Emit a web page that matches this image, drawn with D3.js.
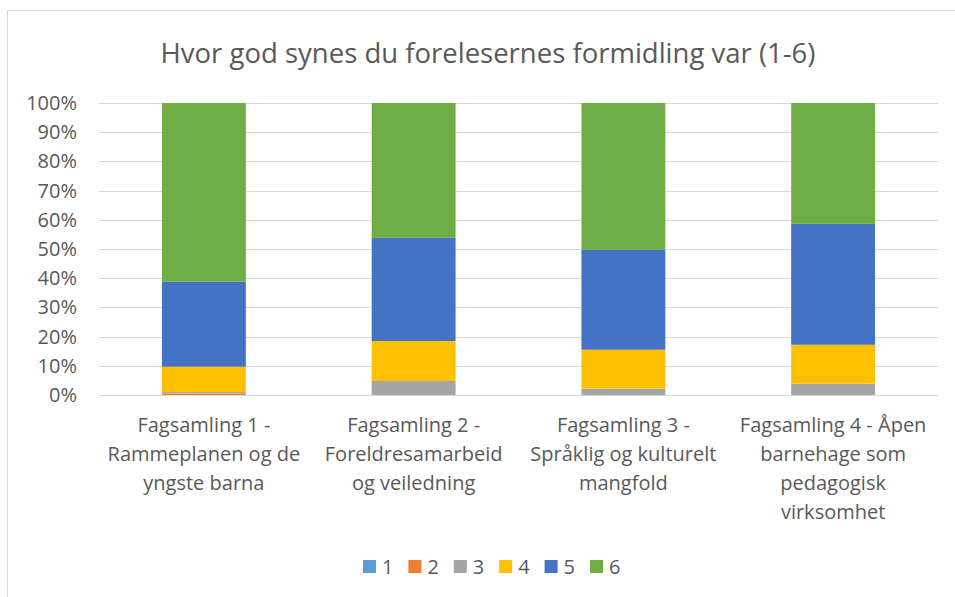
<!DOCTYPE html>
<html>
<head>
<meta charset="utf-8">
<script src="https://cdn.jsdelivr.net/npm/d3@7"></script>
<style>
  html, body { margin: 0; padding: 0; background: #fff; }
  svg { display: block; }
  text { font-family: "Open Sans", "Noto Sans", sans-serif; fill: #595959; }
</style>
</head>
<body>
<svg id="chart" width="955" height="597"></svg>
<script>
// chart data
const categories = [
    ["Fagsamling 1 -", "Rammeplanen og de", "yngste barna"],
    ["Fagsamling 2 -", "Foreldresamarbeid", "og veiledning"],
    ["Fagsamling 3 -", "Språklig og kulturelt", "mangfold"],
    ["Fagsamling 4 - Åpen", "barnehage som", "pedagogisk", "virksomhet"]
];
const seriesNames = ["1", "2", "3", "4", "5", "6"];
const s1 = [0, 0, 0, 0];
const s2 = [0.5, 0, 0, 0];
const s3 = [0.5, 4.8, 2.2, 3.9];
const s4 = [8.7, 13.7, 13.3, 13.3];
const s5 = [29.1, 35.3, 34.2, 41.4];
const s6 = [61.2, 46.2, 50.3, 41.4];
const yTicks = [0, 10, 20, 30, 40, 50, 60, 70, 80, 90, 100];
const colors = ["#5B9BD5", "#ED7D31", "#A5A5A5", "#FFC000", "#4472C4", "#70AD47"];

const allSeries = [s1, s2, s3, s4, s5, s6];
const rows = categories.map((c, i) => {
    let o = { idx: i };
    seriesNames.forEach((n, k) => { o[n] = allSeries[k][i]; });
    return o;
});

const svg = d3.select("#chart");

// outer chart border
svg.append("rect")
    .attr("x", 7.5).attr("y", 10.5)
    .attr("width", 960).attr("height", 600)
    .attr("fill", "none")
    .attr("stroke", "#D9D9D9")
    .attr("stroke-width", 1);

svg.append("text")
    .attr("x", 488).attr("y", 63)
    .attr("text-anchor", "middle")
    .style("font-size", "27.5px")
    .text("Hvor god synes du forelesernes formidling var (1-6)");

const x = d3.scaleBand()
    .domain(rows.map(d => d.idx))
    .range([99, 938])
    .paddingInner(0.6)
    .paddingOuter(0.3);

const y = d3.scaleLinear()
    .domain([0, 100])
    .range([395, 103]);

// gridlines
svg.append("g")
    .selectAll("line")
    .data(yTicks)
    .enter()
    .append("line")
    .attr("x1", 99).attr("x2", 938)
    .attr("y1", d => Math.round(y(d)) + 0.5)
    .attr("y2", d => Math.round(y(d)) + 0.5)
    .attr("stroke", "#D9D9D9")
    .attr("stroke-width", 1);

// y axis labels
const yAxis = svg.append("g")
    .attr("transform", "translate(99,0)")
    .call(d3.axisLeft(y).tickValues(yTicks).tickFormat(d => d + "%").tickSize(0).tickPadding(22));
yAxis.select(".domain").remove();
yAxis.selectAll("text")
    .style("font-size", "20px")
    .style("font-family", "'Open Sans', 'Noto Sans', sans-serif")
    .attr("fill", "#595959");

// stacked bars
const stacked = d3.stack().keys(seriesNames)(rows);

svg.append("g")
    .selectAll("g")
    .data(stacked)
    .enter()
    .append("g")
    .attr("fill", (d, i) => colors[i])
    .selectAll("rect")
    .data(d => d)
    .enter()
    .append("rect")
    .attr("x", d => x(d.data.idx))
    .attr("width", x.bandwidth())
    .attr("y", d => y(d[1]))
    .attr("height", d => y(d[0]) - y(d[1]));

// category labels
const catG = svg.append("g");
categories.forEach((lines, i) => {
    const t = catG.append("text")
        .attr("text-anchor", "middle")
        .style("font-size", "20px");
    lines.forEach((ln, j) => {
        t.append("tspan")
            .attr("x", x(i) + x.bandwidth() / 2)
            .attr("y", 432 + j * 29)
            .text(ln);
    });
});

// legend
const legend = svg.append("g");
const leg = legend.selectAll("g")
    .data(seriesNames)
    .enter()
    .append("g")
    .attr("transform", (d, i) => `translate(${363 + i * 45.4},0)`);
leg.append("rect")
    .attr("x", 0).attr("y", 560)
    .attr("width", 13).attr("height", 13)
    .attr("fill", (d, i) => colors[i]);
leg.append("text")
    .attr("x", 19).attr("y", 574)
    .style("font-size", "20px")
    .text(d => d);
</script>
</body>
</html>
